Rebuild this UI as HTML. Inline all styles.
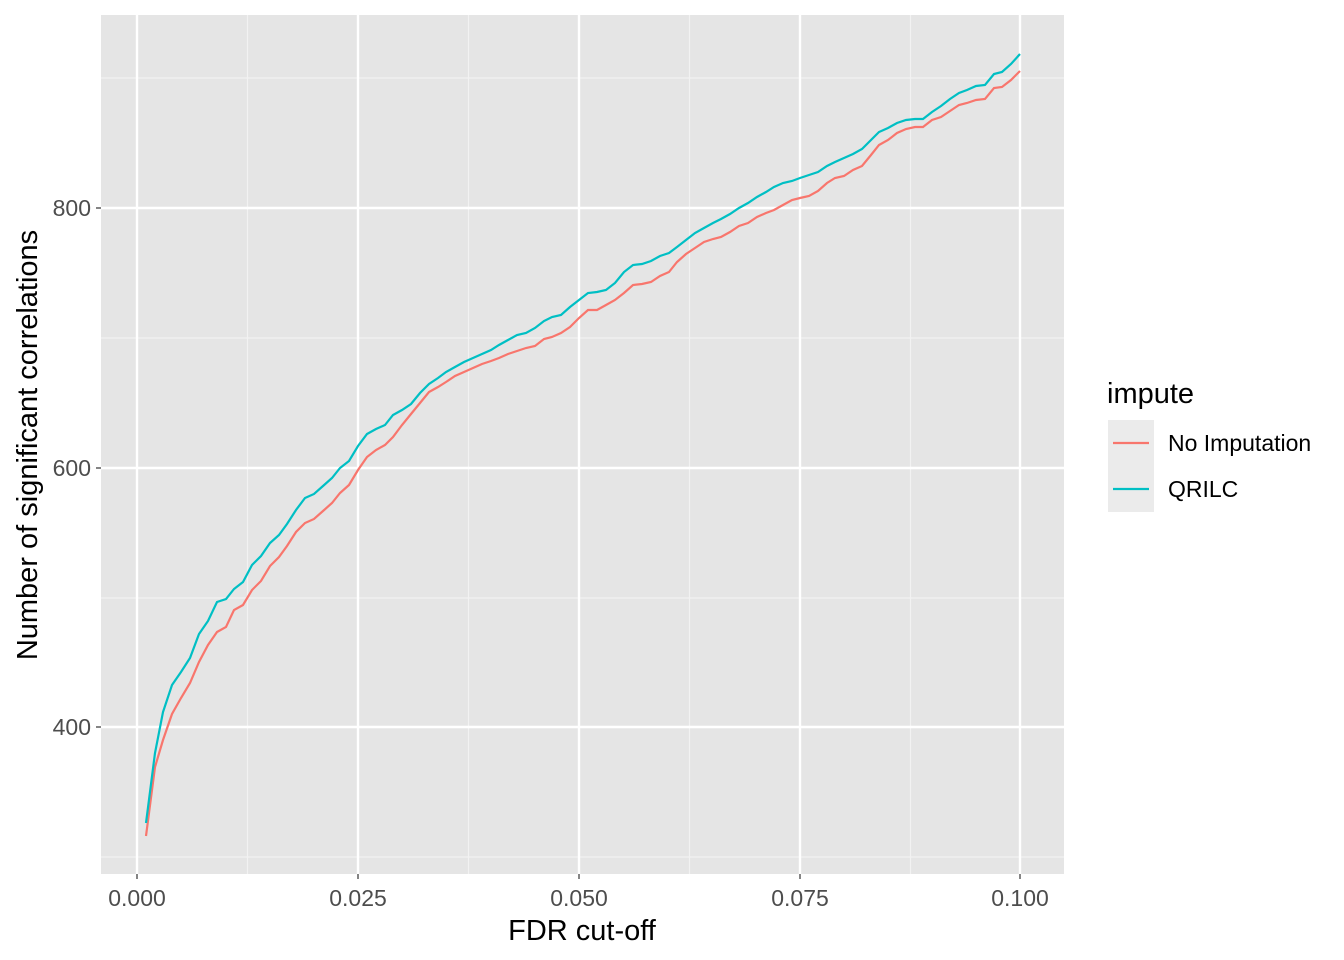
<!DOCTYPE html>
<html><head><style>body{margin:0;background:#fff}svg{display:block}text{font-family:"Liberation Sans",Arial,sans-serif}</style></head><body>
<svg width="1344" height="960" xmlns="http://www.w3.org/2000/svg">
<rect x="101" y="15" width="963" height="859" fill="#e5e5e5"/>
<g stroke="#f2f2f2" stroke-width="1.2">
<line x1="101" x2="1064" y1="78" y2="78"/><line x1="101" x2="1064" y1="338" y2="338"/><line x1="101" x2="1064" y1="598" y2="598"/><line x1="101" x2="1064" y1="857" y2="857"/>
<line y1="15" y2="874" x1="247.5" x2="247.5"/><line y1="15" y2="874" x1="468.5" x2="468.5"/><line y1="15" y2="874" x1="689.5" x2="689.5"/><line y1="15" y2="874" x1="910.5" x2="910.5"/>
</g>
<g stroke="#fff" stroke-width="2.4">
<line x1="101" x2="1064" y1="208" y2="208"/><line x1="101" x2="1064" y1="468" y2="468"/><line x1="101" x2="1064" y1="727" y2="727"/>
<line y1="15" y2="874" x1="137" x2="137"/><line y1="15" y2="874" x1="358" x2="358"/><line y1="15" y2="874" x1="579" x2="579"/><line y1="15" y2="874" x1="800" x2="800"/><line y1="15" y2="874" x1="1020" x2="1020"/>
</g>
<polyline fill="none" stroke="#F8766D" stroke-width="2.2" points="146,836 155,767 163,740 172,714 181,698 190,683 199,662 208,645 217,632 226,627 234,610 243,605 252,590 261,581 270,566 279,557 287,546 296,532 305,523 314,519 323,511 332,503 340,493 349,485 358,470 367,457 376,450 385,445 393,437 402,425 411,414 420,403 429,392 438,387 446,382 455,376 464,372 473,368 482,364 491,361 499,358 508,354 517,351 526,348 535,346 544,339 552,337 561,333 570,327 579,318 588,310 597,310 606,305 615,300 624,293 633,285 642,284 651,282 660,276 669,272 677,262 686,254 695,248 704,242 713,239 721,237 730,232 739,226 748,223 757,217 766,213 774,210 783,205 792,200 800,198 809,196 818,191 827,183 835,178 844,176 853,170 862,166 871,155 879,145 888,140 897,133 906,129 915,127 923,127 932,120 941,117 950,111 959,105 967,103 976,100 985,99 994,88 1002,87 1011,80 1020,71"/>
<polyline fill="none" stroke="#00BFC4" stroke-width="2.2" points="146,823 155,753 163,712 172,685 181,672 190,658 199,634 208,621 217,602 226,599 234,589 243,582 252,565 261,556 270,543 279,535 287,524 296,510 305,498 314,494 323,486 332,478 340,468 349,461 358,446 367,434 376,429 385,425 393,415 402,410 411,404 420,393 429,384 438,378 446,372 455,367 464,362 473,358 482,354 491,350 499,345 508,340 517,335 526,333 535,328 544,321 552,317 561,315 570,307 579,300 588,293 597,292 606,290 615,283 624,272 633,265 642,264 651,261 660,256 669,253 677,247 686,240 695,233 704,228 713,223 721,219 730,214 739,208 748,203 757,197 766,192 774,187 783,183 792,181 800,178 809,175 818,172 827,166 835,162 844,158 853,154 862,149 871,140 879,132 888,128 897,123 906,120 915,119 923,119 932,112 941,106 950,99 959,93 967,90 976,86 985,85 994,74 1002,72 1011,64 1020,54"/>
<g stroke="#333" stroke-width="1.2">
<line x1="96" x2="101" y1="208" y2="208"/><line x1="96" x2="101" y1="468" y2="468"/><line x1="96" x2="101" y1="727" y2="727"/>
<line y1="874" y2="879" x1="137" x2="137"/><line y1="874" y2="879" x1="358" x2="358"/><line y1="874" y2="879" x1="579" x2="579"/><line y1="874" y2="879" x1="800" x2="800"/><line y1="874" y2="879" x1="1020" x2="1020"/>
</g>
<g font-size="23" fill="#4d4d4d" text-anchor="end">
<text x="91" y="216">800</text><text x="91" y="476">600</text><text x="91" y="735">400</text>
</g>
<g font-size="23" fill="#4d4d4d" text-anchor="middle">
<text x="137" y="906">0.000</text><text x="358" y="906">0.025</text><text x="579" y="906">0.050</text><text x="800" y="906">0.075</text><text x="1020" y="906">0.100</text>
</g>
<text x="582" y="940" font-size="29" text-anchor="middle" fill="#000">FDR cut-off</text>
<text transform="translate(37,445) rotate(-90)" font-size="29" text-anchor="middle" fill="#000">Number of significant correlations</text>
<text x="1107" y="403" font-size="29" fill="#000">impute</text>
<rect x="1108" y="420" width="46" height="46" fill="#ebebeb"/><rect x="1108" y="466" width="46" height="46" fill="#ebebeb"/>
<line x1="1113" x2="1149" y1="443" y2="443" stroke="#F8766D" stroke-width="2.2"/>
<line x1="1113" x2="1149" y1="489" y2="489" stroke="#00BFC4" stroke-width="2.2"/>
<text x="1168" y="451" font-size="23" fill="#000">No Imputation</text>
<text x="1168" y="497" font-size="23" fill="#000">QRILC</text>
</svg>
</body></html>
